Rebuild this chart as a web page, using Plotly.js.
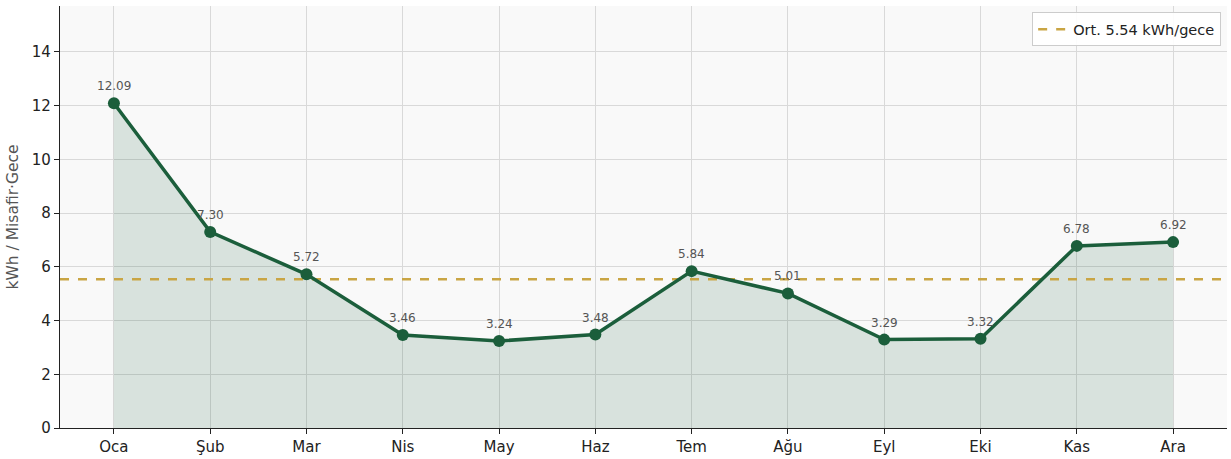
<!DOCTYPE html>
<html><head><meta charset="utf-8">
<script src="https://cdn.plot.ly/plotly-3.0.1.min.js"></script>
<style>html,body{margin:0;padding:0;background:#fff}#chart{width:1231px;height:459px}</style>
</head><body><div id="chart"></div>
<script>
const months = ["Oca","Şub","Mar","Nis","May","Haz","Tem","Ağu","Eyl","Eki","Kas","Ara"];
const values = [12.09,7.30,5.72,3.46,3.24,3.48,5.84,5.01,3.29,3.32,6.78,6.92];
const avgValue = 5.54;
const avgLabel = "Ort. 5.54 kWh/gece";
const yTicks = [0,2,4,6,8,10,12,14];

const idx = months.map((_, i) => i);
const green = "#1b5e3b";

const traces = [
  {x: idx, y: values, type: "scatter", mode: "lines", fill: "tozeroy",
   fillcolor: "rgba(27,94,59,0.15)", line: {width: 0}, hoverinfo: "skip", showlegend: false},
  {x: [-0.56, 11.56], y: [avgValue, avgValue], type: "scatter", mode: "lines",
   line: {color: "#c9a544", width: 2.5, dash: "dash"}, name: avgLabel, showlegend: true},
  {x: idx, y: values, type: "scatter", mode: "lines+markers",
   line: {color: green, width: 3.5}, marker: {color: green, size: 12}, showlegend: false}
];

const annotations = values.map((v, i) => ({
  x: i, y: v, xref: "x", yref: "y", text: v.toFixed(2), showarrow: false,
  yshift: 17, font: {family: "DejaVu Sans", size: 12, color: "#555"}
}));

const layout = {
  width: 1231, height: 459,
  margin: {l: 60, r: 4, t: 6, b: 31},
  paper_bgcolor: "#ffffff", plot_bgcolor: "#f9f9f9",
  font: {family: "DejaVu Sans", size: 14, color: "#222"},
  xaxis: {range: [-0.56, 11.56], tickvals: idx, ticktext: months, showgrid: true,
          gridcolor: "#d9d9d9", gridwidth: 1, zeroline: false, showline: true,
          linecolor: "#222", linewidth: 1.2, ticks: "outside", ticklen: 5, tickcolor: "#222",
          tickfont: {size: 15, color: "#222"}},
  yaxis: {range: [0, 15.71], tickvals: yTicks, showgrid: true, gridcolor: "#d9d9d9",
          gridwidth: 1, zeroline: false, showline: true, linecolor: "#222", linewidth: 1.2,
          ticks: "outside", ticklen: 5, tickcolor: "#222", tickfont: {size: 15, color: "#222"},
          title: {text: "kWh / Misafir·Gece", font: {size: 15.5, color: "#555"}, standoff: 9}},
  legend: {x: 0.995, y: 0.985, xanchor: "right", yanchor: "top", bgcolor: "rgba(255,255,255,0.9)",
           bordercolor: "#ccc", borderwidth: 1, font: {size: 14.5, color: "#222"}},
  annotations: annotations,
  showlegend: true
};

Plotly.newPlot("chart", traces, layout, {displayModeBar: false, staticPlot: true});
</script></body></html>
